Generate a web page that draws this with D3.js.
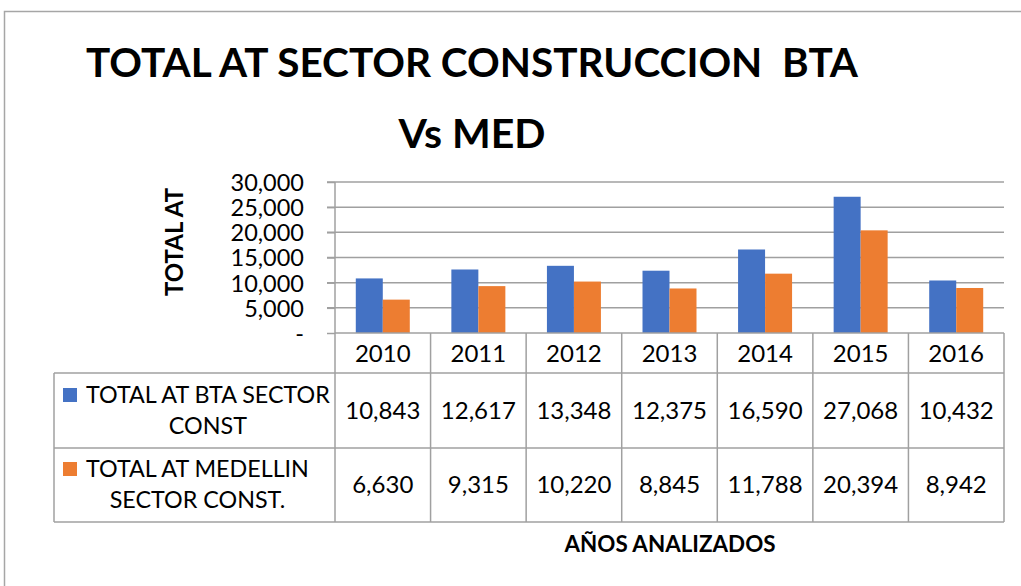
<!DOCTYPE html>
<html>
<head>
<meta charset="utf-8">
<script src="https://cdn.jsdelivr.net/npm/d3@7"></script>
<style>
  html, body { margin: 0; padding: 0; background: #fff; }
  svg { display: block; font-family: Lato, "Open Sans", sans-serif; }
</style>
</head>
<body>
<svg id="chart" width="1021" height="586"></svg>
<script>
// chart data
var years = ['2010', '2011', '2012', '2013', '2014', '2015', '2016'];
var seriesNames = ['TOTAL AT BTA SECTOR CONST', 'TOTAL AT MEDELLIN SECTOR CONST.'];
var legendLines = [['TOTAL AT BTA SECTOR', 'CONST'], ['TOTAL AT MEDELLIN', 'SECTOR CONST.']];
var bta = [10843, 12617, 13348, 12375, 16590, 27068, 10432];
var med = [6630, 9315, 10220, 8845, 11788, 20394, 8942];
var yTicks = [0, 5000, 10000, 15000, 20000, 25000, 30000];
var colors = ['#4472C4', '#ED7D31'];

var values = [bta, med];
var gridColor = '#a0a0a0';
var fs = 24;

var svg = d3.select('#chart');

// outer frame
svg.append('rect')
  .attr('x', 4.5)
  .attr('y', 11.5)
  .attr('width', 1040)
  .attr('height', 600)
  .attr('fill', 'none')
  .attr('stroke', '#a6a6a6')
  .attr('stroke-width', 1.5);

// title
var title = svg.append('text')
  .attr('text-anchor', 'middle')
  .attr('font-weight', 'bold')
  .attr('font-size', 41)
  .attr('fill', '#000');
title.append('tspan').attr('x', 472).attr('y', 77).text('TOTAL AT SECTOR CONSTRUCCION\u00a0\u00a0BTA')
  .attr('textLength', 772).attr('lengthAdjust', 'spacingAndGlyphs');
title.append('tspan').attr('x', 472).attr('y', 148).text('Vs MED');

// scales
var plotLeft = 335, plotRight = 1004, plotTop = 182, plotZero = 333;
var x = d3.scaleBand().domain(years).range([plotLeft, plotRight]).paddingInner(0).paddingOuter(0);
var xs = d3.scaleBand().domain([0, 1]).range([0, x.bandwidth()]).paddingInner(0).paddingOuter(0.77);
var y = d3.scaleLinear().domain([0, 30000]).range([plotZero, plotTop]);

// gridlines
svg.append('g').selectAll('line')
  .data(yTicks.filter(function (d) { return d > 0; }))
  .join('line')
  .attr('x1', plotLeft - 8)
  .attr('x2', plotRight)
  .attr('y1', function (d) { return y(d); })
  .attr('y2', function (d) { return y(d); })
  .attr('stroke', gridColor)
  .attr('stroke-width', 1.5);

// bars
years.forEach(function (yr, i) {
  svg.append('g')
    .selectAll('rect')
    .data(values.map(function (v, k) { return { k: k, v: v[i] }; }))
    .join('rect')
    .attr('x', function (d) { return x(yr) + xs(d.k); })
    .attr('width', xs.bandwidth())
    .attr('y', function (d) { return y(d.v); })
    .attr('height', function (d) { return plotZero - y(d.v); })
    .attr('fill', function (d) { return colors[d.k]; });
});

// y axis labels
var fmt = d3.format(',');
var yAxis = svg.append('g')
  .attr('transform', 'translate(' + plotLeft + ',0)')
  .call(d3.axisLeft(y).tickValues(yTicks).tickSize(8).tickPadding(23)
    .tickFormat(function (d) { return d === 0 ? '-' : fmt(d); }));
yAxis.select('.domain').remove();
yAxis.selectAll('line').attr('stroke', gridColor).attr('stroke-width', 1.5);
yAxis.selectAll('text')
  .attr('font-family', 'Lato, sans-serif')
  .attr('font-size', 23.5)
  .attr('fill', '#000')
  .attr('dy', '0.36em');

// y axis title
svg.append('text')
  .attr('transform', 'translate(183,242) rotate(-90)')
  .attr('text-anchor', 'middle')
  .attr('font-weight', 'bold')
  .attr('font-size', 24)
  .text('TOTAL AT');

// data table
var tableLeft = 54, rowTops = [333, 373, 448, 522];
var tbl = svg.append('g').attr('stroke', gridColor).attr('stroke-width', 1.5);

tbl.append('line').attr('x1', plotLeft).attr('x2', plotRight).attr('y1', plotZero).attr('y2', plotZero);
[rowTops[1], rowTops[2], rowTops[3]].forEach(function (yy) {
  tbl.append('line').attr('x1', tableLeft).attr('x2', plotRight).attr('y1', yy).attr('y2', yy);
});
tbl.append('line').attr('x1', plotLeft).attr('x2', plotLeft).attr('y1', plotTop).attr('y2', rowTops[3]);
years.forEach(function (yr) {
  var xx = x(yr) + x.bandwidth();
  tbl.append('line').attr('x1', xx).attr('x2', xx).attr('y1', plotZero).attr('y2', rowTops[3]);
});
tbl.append('line').attr('x1', tableLeft).attr('x2', tableLeft).attr('y1', rowTops[1]).attr('y2', rowTops[3]);

// header years
svg.append('g').selectAll('text')
  .data(years)
  .join('text')
  .attr('x', function (d) { return x(d) + x.bandwidth() / 2; })
  .attr('y', 362)
  .attr('text-anchor', 'middle')
  .attr('font-size', fs)
  .text(function (d) { return d; });

// values
var rowBase = [419, 493];
values.forEach(function (vals, k) {
  svg.append('g').selectAll('text')
    .data(vals)
    .join('text')
    .attr('x', function (d, i) { return x(years[i]) + x.bandwidth() / 2; })
    .attr('y', rowBase[k])
    .attr('text-anchor', 'middle')
    .attr('font-size', fs)
    .text(function (d) { return fmt(d); });
});

// legend keys + labels
var keyTops = [388, 462];
legendLines.forEach(function (lines, k) {
  svg.append('rect')
    .attr('x', 63).attr('y', keyTops[k])
    .attr('width', 14).attr('height', 14)
    .attr('fill', colors[k]);
  var g = svg.append('g');
  var texts = lines.map(function (t, j) {
    return g.append('text')
      .attr('y', keyTops[k] + 15 + j * 31)
      .attr('text-anchor', 'middle')
      .attr('font-size', 23.3)
      .text(t);
  });
  var w = d3.max(texts, function (t) { return t.node().getComputedTextLength(); });
  texts.forEach(function (t) { t.attr('x', 86 + w / 2); });
});

// x axis title
svg.append('text')
  .attr('x', 670)
  .attr('y', 552)
  .attr('text-anchor', 'middle')
  .attr('font-weight', 'bold')
  .attr('font-size', 22.4)
  .text('AÑOS ANALIZADOS');
</script>
</body>
</html>
